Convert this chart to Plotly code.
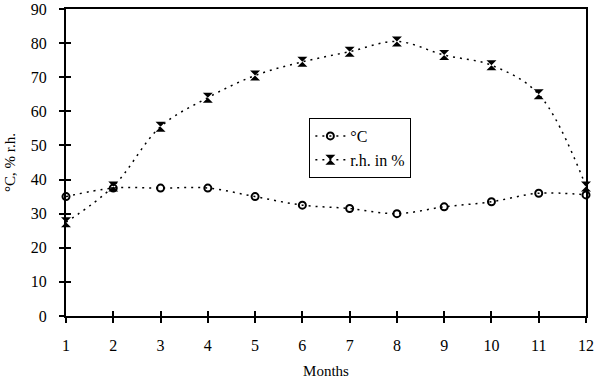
import plotly.graph_objects as go

months = [1, 2, 3, 4, 5, 6, 7, 8, 9, 10, 11, 12]
temp_c = [35, 37.5, 37.5, 37.5, 35, 32.5, 31.5, 30, 32, 33.5, 36, 35.5]
rh_pct = [27.5, 38, 55.5, 64, 70.5, 74.5, 77.5, 80.5, 76.5, 73.5, 65, 38]
y_ticks = [0, 10, 20, 30, 40, 50, 60, 70, 80, 90]

font = dict(family="Liberation Serif, Times New Roman, serif", size=16, color="black")
title_font = dict(family="Liberation Serif, Times New Roman, serif", size=15, color="black")

fig = go.Figure()
fig.add_trace(go.Scatter(
    x=months, y=temp_c, name="°C", mode="lines+markers",
    line=dict(color="black", width=1.5, dash="2px,5px", shape="spline"),
    marker=dict(symbol="circle-open", size=7, color="black", line=dict(width=2)),
    cliponaxis=False,
))
fig.add_trace(go.Scatter(
    x=months, y=rh_pct, name="r.h. in %", mode="lines+markers",
    line=dict(color="black", width=1.5, dash="2px,5px", shape="spline"),
    marker=dict(symbol="hourglass", size=10, color="black"),
    cliponaxis=False,
))
fig.add_trace(go.Scatter(x=months, y=temp_c, xaxis="x2", yaxis="y2",
                         mode="none", showlegend=False, hoverinfo="skip"))

fig.update_layout(
    width=600, height=380,
    margin=dict(l=66, r=14, t=9, b=64),
    paper_bgcolor="white", plot_bgcolor="white",
    font=font,
    showlegend=True,
    legend=dict(x=0.468, y=0.645, xanchor="left", yanchor="top",
                bordercolor="black", borderwidth=1, bgcolor="white",
                font=dict(family="Liberation Serif, serif", size=16, color="black"),
                tracegroupgap=8),
    xaxis=dict(range=[1, 12], tickmode="array", tickvals=months,
               ticks="outside", ticklen=5, tickwidth=2, tickcolor="black",
               ticklabelstandoff=9, ticklabeloverflow="allow",
               showline=True, linecolor="black", linewidth=2, mirror=True,
               showgrid=False, zeroline=False, automargin=False,
               title=dict(text="Months", font=title_font, standoff=12)),
    yaxis=dict(range=[0, 90], tickmode="array", tickvals=y_ticks,
               ticks="outside", ticklen=5, tickwidth=2, tickcolor="black",
               ticklabelstandoff=9, ticklabeloverflow="allow",
               showline=True, linecolor="black", linewidth=2, mirror=True,
               showgrid=False, zeroline=False, automargin=False,
               title=dict(text="°C, % r.h.", font=title_font, standoff=12)),
    xaxis2=dict(range=[1, 12], overlaying="x", tickvals=months, ticks="inside",
                ticklen=5, tickwidth=2, tickcolor="black", showticklabels=False,
                showgrid=False, zeroline=False, showline=False, side="bottom",
                automargin=False),
    yaxis2=dict(range=[0, 90], overlaying="y", tickvals=y_ticks, ticks="inside",
                ticklen=5, tickwidth=2, tickcolor="black", showticklabels=False,
                showgrid=False, zeroline=False, showline=False, side="left",
                automargin=False),
)

fig.write_html("out.html", config={"displayModeBar": False},
               post_script="document.body.style.margin='0px';")
